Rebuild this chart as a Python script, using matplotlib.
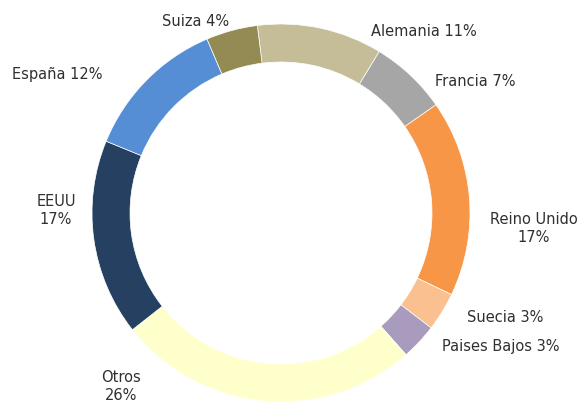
import matplotlib.pyplot as plt

paises = ['Alemania', 'Francia', 'Reino Unido', 'Suecia', 'Paises Bajos',
          'Otros', 'EEUU', 'España', 'Suiza']
porcentajes = [10.7, 6.6, 16.8, 3.3, 3.1, 25.9, 16.8, 12.4, 4.4]
colores = ['#C4BD97', '#A6A6A6', '#F79646', '#FAC090', '#A99BBE',
           '#FFFFCC', '#254061', '#558ED5', '#948A54']
# texto de cada etiqueta (algunas en dos lineas)
etiquetas = ['Alemania 11%', 'Francia 7%', 'Reino Unido\n17%', 'Suecia 3%',
             'Paises Bajos 3%', 'Otros\n26%', 'EEUU\n17%', 'España 12%', 'Suiza 4%']

# posicion de las etiquetas (pixeles, origen arriba-izquierda)
pos_etiquetas = [(424, 32), (475, 82), (534, 228), (505, 317), (501, 346),
                 (121, 386), (56, 211), (57, 75), (196, 21)]

W, H = 585, 401
cx, cy, radio = 281, 213, 189

fig = plt.figure(figsize=(W / 100, H / 100), dpi=100)
ax = fig.add_axes([0, 0, 1, 1])
ax.pie(porcentajes, colors=colores, startangle=97.2, counterclock=False,
       center=(cx, H - cy), radius=radio,
       wedgeprops=dict(width=38, edgecolor='white', linewidth=0.5))

for txt, (x, y) in zip(etiquetas, pos_etiquetas):
    ax.text(x, H - y, txt, ha='center', va='center', fontsize=10.5,
            color='#303030', family='DejaVu Sans', linespacing=1.25)

ax.set_xlim(0, W)
ax.set_ylim(0, H)
ax.set_aspect('equal')
ax.axis('off')
fig.savefig('out.png', dpi=100)
